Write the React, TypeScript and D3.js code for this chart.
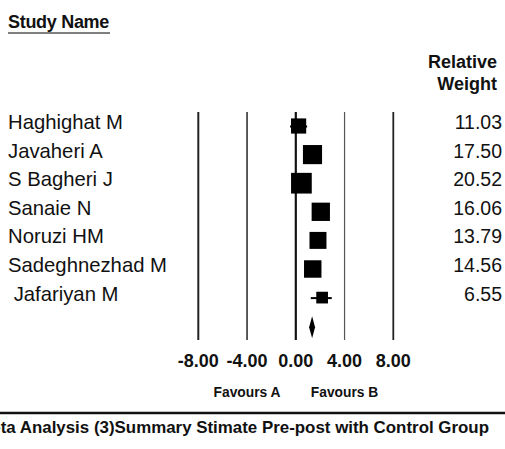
import React, { useRef, useEffect } from 'react';
import * as d3 from 'd3';

const studies = ['Haghighat M', 'Javaheri A', 'S Bagheri J', 'Sanaie N', 'Noruzi HM', 'Sadeghnezhad M', ' Jafariyan M'];
const effects = [0.23, 1.37, 0.46, 2.05, 1.82, 1.39, 2.16];
const lowers = [-0.47, 0.75, -0.2, 1.4, 1.2, 0.75, 1.23];
const uppers = [0.93, 2.0, 1.1, 2.7, 2.45, 2.0, 2.95];
const weights = [11.03, 17.5, 20.52, 16.06, 13.79, 14.56, 6.55];
const summary = { effect: 1.34, lower: 1.09, upper: 1.58 };
const ticks = [-8, -4, 0, 4, 8];
const title = 'Meta Analysis (3)Summary Stimate Pre-post with Control Group';

const width = 505;
const height = 449;
const FONT = 'Arial, "Liberation Sans", sans-serif';

const App: React.FC = () => {
    const svgRef = useRef<SVGSVGElement | null>(null);

    useEffect(() => {
        if (!svgRef.current) return;
        document.body.style.margin = '0';
        const svg = d3.select(svgRef.current);
        svg.selectAll('*').remove();

        svg.append('rect').attr('width', width).attr('height', height).attr('fill', '#fff');

        const x = d3.scaleLinear().domain([-8, 8]).range([198.3, 393.3]);
        // rows: studies then the summary diamond
        const y = d3.scaleLinear().domain([0, studies.length]).range([126, 126 + 28.6 * studies.length]);
        const side = d3.scaleSqrt().domain([0, 20.52]).range([0, 20.7]);

        // header
        svg.append('text')
            .attr('x', 8).attr('y', 28)
            .attr('font-family', FONT).attr('font-weight', 'bold').attr('font-size', 18)
            .attr('letter-spacing', -0.3)
            .attr('fill', '#111')
            .text('Study Name');
        svg.append('line')
            .attr('x1', 8).attr('x2', 110).attr('y1', 33).attr('y2', 33)
            .attr('stroke', '#555').attr('stroke-width', 1.6);

        svg.append('text')
            .attr('x', 497).attr('y', 68)
            .attr('text-anchor', 'end')
            .attr('font-family', FONT).attr('font-weight', 'bold').attr('font-size', 18)
            .attr('fill', '#111')
            .text('Relative');
        svg.append('text')
            .attr('x', 497).attr('y', 90)
            .attr('text-anchor', 'end')
            .attr('font-family', FONT).attr('font-weight', 'bold').attr('font-size', 18)
            .attr('fill', '#111')
            .text('Weight');

        // vertical reference lines
        const lineStyle: any = {
            '-8': ['#222', 2], '-4': ['#333', 1.6], '0': ['#111', 2.2], '4': ['#555', 1.2], '8': ['#222', 1.8],
        };
        svg.append('g').selectAll('line')
            .data(ticks)
            .join('line')
            .attr('x1', d => x(d)).attr('x2', d => x(d))
            .attr('y1', 112).attr('y2', 340)
            .attr('stroke', d => lineStyle[d][0])
            .attr('stroke-width', d => lineStyle[d][1]);

        svg.append('g').selectAll('text')
            .data(ticks)
            .join('text')
            .attr('x', d => x(d)).attr('y', 367)
            .attr('text-anchor', 'middle')
            .attr('font-family', FONT).attr('font-weight', 'bold').attr('font-size', 18)
            .attr('fill', '#111')
            .text(d => d.toFixed(2));

        svg.append('text')
            .attr('x', x(-4)).attr('y', 397)
            .attr('text-anchor', 'middle')
            .attr('font-family', FONT).attr('font-weight', 'bold').attr('font-size', 13.8)
            .attr('fill', '#111')
            .text('Favours A');
        svg.append('text')
            .attr('x', x(4)).attr('y', 397)
            .attr('text-anchor', 'middle')
            .attr('font-family', FONT).attr('font-weight', 'bold').attr('font-size', 13.8)
            .attr('fill', '#111')
            .text('Favours B');

        // study labels and weights
        const rows = svg.append('g');
        rows.selectAll('text.name')
            .data(studies)
            .join('text')
            .attr('class', 'name')
            .attr('x', 8).attr('y', (_, i) => y(i) + 3)
            .attr('font-family', FONT).attr('font-size', 20.3)
            .attr('fill', '#111')
            .style('white-space', 'pre')
            .text(d => d);
        rows.selectAll('text.weight')
            .data(weights)
            .join('text')
            .attr('class', 'weight')
            .attr('x', 502).attr('y', (_, i) => y(i) + 3)
            .attr('text-anchor', 'end')
            .attr('font-family', FONT).attr('font-size', 19.5)
            .attr('fill', '#111')
            .text(d => d.toFixed(2));

        // confidence intervals
        rows.selectAll('line.ci')
            .data(effects)
            .join('line')
            .attr('class', 'ci')
            .attr('x1', (_, i) => x(lowers[i])).attr('x2', (_, i) => x(uppers[i]))
            .attr('y1', (_, i) => y(i) + 0.5).attr('y2', (_, i) => y(i) + 0.5)
            .attr('stroke', '#000').attr('stroke-width', 2);

        // weight squares
        rows.selectAll('rect.box')
            .data(effects)
            .join('rect')
            .attr('class', 'box')
            .attr('x', (d, i) => x(d) - side(weights[i]) / 2)
            .attr('y', (_, i) => y(i) - side(weights[i]) / 2)
            .attr('width', (_, i) => side(weights[i]))
            .attr('height', (_, i) => side(weights[i]))
            .attr('fill', '#000');

        // summary diamond
        const sy = y(studies.length) + 1;
        const half = 11;
        svg.append('path')
            .attr('d', `M${x(summary.lower)},${sy} L${x(summary.effect)},${sy - half} L${x(summary.upper)},${sy} L${x(summary.effect)},${sy + half} Z`)
            .attr('fill', '#000');

        // bottom rule and caption (cut off at the left edge, as in the source)
        svg.append('line')
            .attr('x1', 0).attr('x2', width).attr('y1', 413).attr('y2', 413)
            .attr('stroke', '#111').attr('stroke-width', 2.5);
        svg.append('text')
            .attr('x', 489).attr('y', 433)
            .attr('text-anchor', 'end')
            .attr('font-family', FONT).attr('font-weight', 'bold').attr('font-size', 16.9)
            .attr('fill', '#111')
            .text(title);
    }, []);

    return (
        <svg
            ref={svgRef}
            width={width}
            height={height}
            style={{ position: 'absolute', left: 0, top: 0, display: 'block' }}
        />
    );
};

export default App;
